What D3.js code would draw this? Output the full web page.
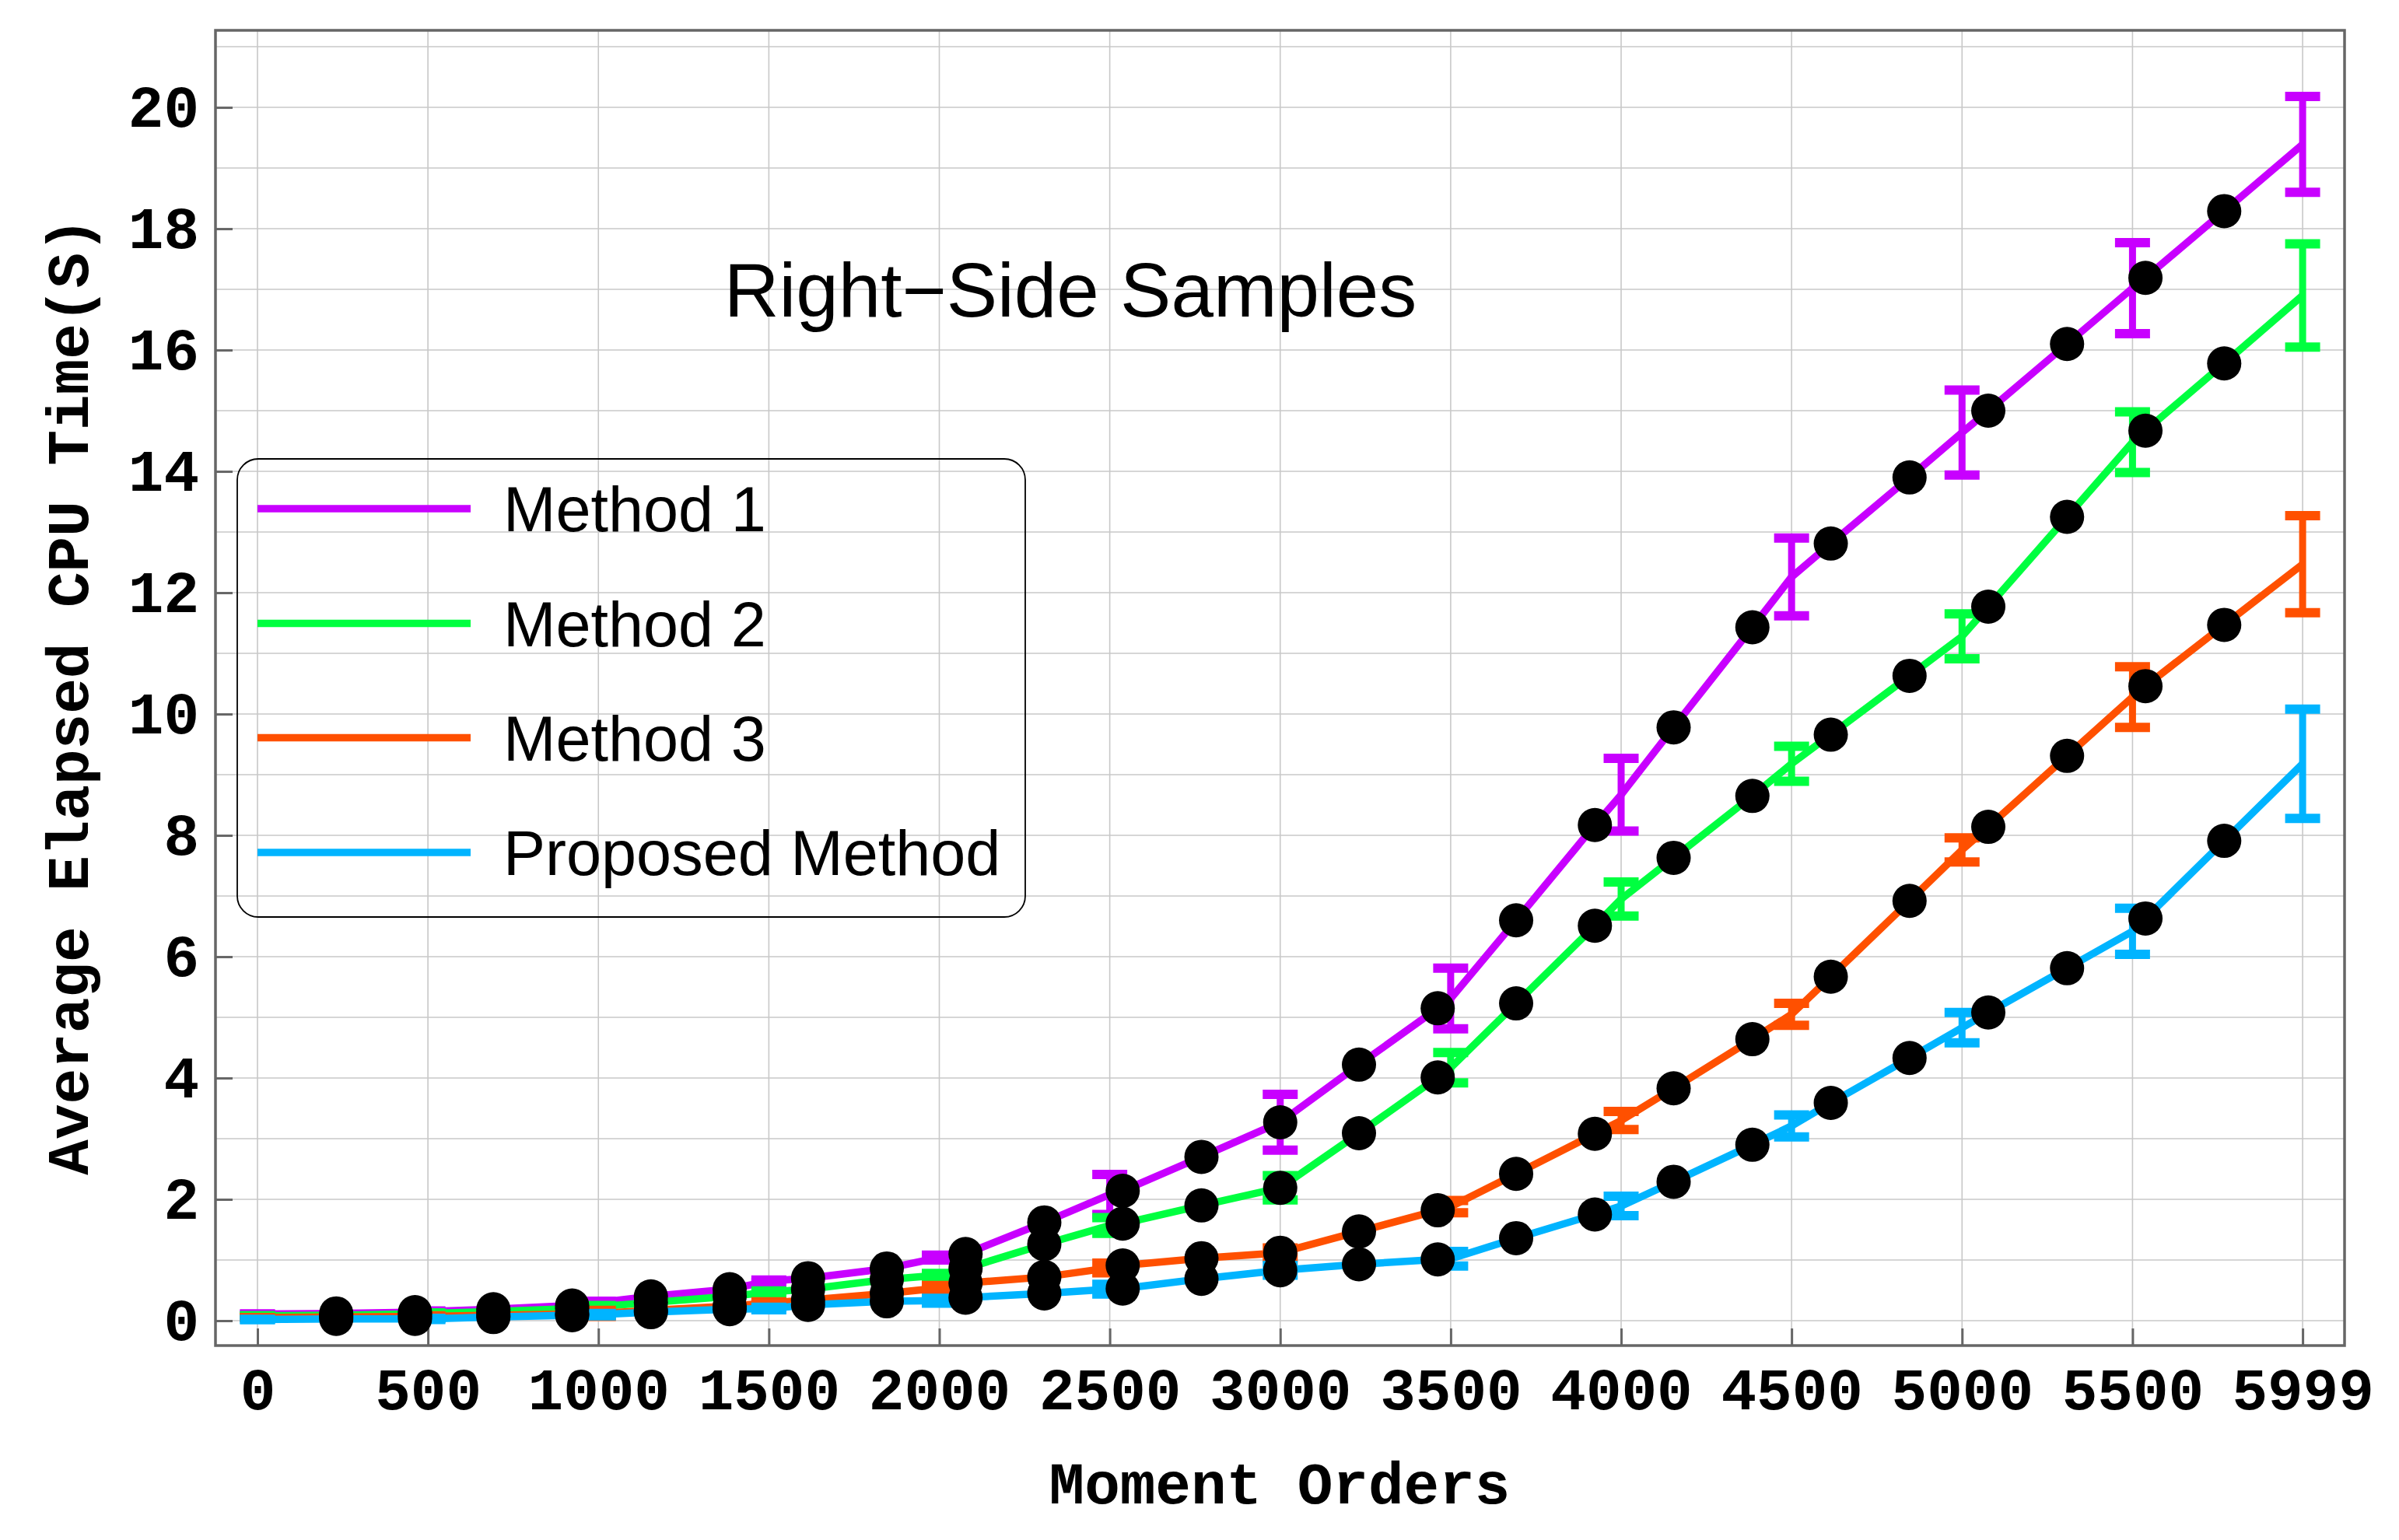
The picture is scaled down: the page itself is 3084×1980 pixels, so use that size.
<!DOCTYPE html>
<html>
<head>
<meta charset="utf-8">
<script src="https://cdn.jsdelivr.net/npm/d3@7"></script>
<style>
  html, body { margin: 0; padding: 0; background: #ffffff; }
  svg { display: block; }
</style>
</head>
<body>
<svg id="chart" width="3084" height="1980"></svg>
<script>
// ---------------- DATA ----------------
const orders = [0, 231, 462, 500, 692, 923, 1000, 1154, 1385, 1500, 1615, 1846, 2000, 2077, 2308, 2500, 2538, 2769, 3000,
  3231, 3462, 3500, 3692, 3923, 4000, 4154, 4385, 4500, 4615, 4846, 5000, 5077, 5308, 5500, 5538, 5769, 5999];

const markerOrders = [231, 462, 692, 923, 1154, 1385, 1615, 1846, 2077, 2308, 2538, 2769, 3000,
  3231, 3462, 3692, 3923, 4154, 4385, 4615, 4846, 5077, 5308, 5538, 5769];

const errorOrders = [0, 500, 1000, 1500, 2000, 2500, 3000, 3500, 4000, 4500, 5000, 5500, 5999];

const seriesNames = ["Method 1", "Method 2", "Method 3", "Proposed Method"];
const seriesColors = ["#c800ff", "#00ff40", "#ff5000", "#00b4ff"];

const method1 = [0.11, 0.12, 0.14, 0.15, 0.19, 0.25, 0.30, 0.40, 0.52, 0.65, 0.70, 0.86, 1.04, 1.10, 1.62, 2.08, 2.14, 2.70, 3.27,
  4.22, 5.15, 5.31, 6.60, 8.17, 8.67, 9.78, 11.43, 12.26, 12.81, 13.90, 14.64, 15.00, 16.10, 17.02, 17.19, 18.29, 19.39];
const method2 = [0.08, 0.09, 0.11, 0.12, 0.15, 0.20, 0.23, 0.30, 0.40, 0.47, 0.52, 0.68, 0.75, 0.86, 1.26, 1.57, 1.60, 1.90, 2.19,
  3.09, 4.01, 4.17, 5.23, 6.51, 6.95, 7.63, 8.65, 9.18, 9.66, 10.63, 11.28, 11.77, 13.25, 14.48, 14.67, 15.78, 16.90];
const method3 = [0.05, 0.06, 0.07, 0.07, 0.09, 0.11, 0.12, 0.17, 0.24, 0.29, 0.34, 0.45, 0.54, 0.62, 0.72, 0.87, 0.91, 1.03, 1.12,
  1.47, 1.82, 1.88, 2.42, 3.08, 3.30, 3.83, 4.64, 5.05, 5.67, 6.92, 7.76, 8.14, 9.31, 10.28, 10.46, 11.47, 12.47];
const proposed = [0.02, 0.03, 0.03, 0.03, 0.06, 0.09, 0.10, 0.14, 0.19, 0.20, 0.26, 0.32, 0.33, 0.38, 0.45, 0.52, 0.53, 0.69, 0.83,
  0.93, 1.01, 1.02, 1.36, 1.75, 1.89, 2.29, 2.90, 3.21, 3.59, 4.33, 4.83, 5.08, 5.81, 6.42, 6.63, 7.91, 9.18];

const err1 = [0, 0.01, 0.02, 0.02, 0.04, 0.33, 0.46, 0.50, 0.60, 0.64, 0.70, 0.75, 0.79];
const err2 = [0, 0.01, 0.02, 0.02, 0.03, 0.13, 0.20, 0.25, 0.28, 0.29, 0.37, 0.50, 0.85];
const err3 = [0, 0.01, 0.05, 0.02, 0.04, 0.08, 0.08, 0.10, 0.15, 0.18, 0.20, 0.50, 0.80];
const err4 = [0, 0.01, 0.02, 0.02, 0.04, 0.08, 0.08, 0.12, 0.16, 0.18, 0.25, 0.38, 0.90];

const xTicks = [0, 500, 1000, 1500, 2000, 2500, 3000, 3500, 4000, 4500, 5000, 5500, 5999];
const xTickLabels = ["0", "500", "1000", "1500", "2000", "2500", "3000", "3500", "4000", "4500", "5000", "5500", "5999"];
const yTicks = [0, 2, 4, 6, 8, 10, 12, 14, 16, 18, 20];
const yTickLabels = ["0", "2", "4", "6", "8", "10", "12", "14", "16", "18", "20"];
const yGrid = [0, 1, 2, 3, 4, 5, 6, 7, 8, 9, 10, 11, 12, 13, 14, 15, 16, 17, 18, 19, 20, 21];

const titleText = "Right\u2212Side Samples";
const xTitle = "Moment Orders";
const yTitle = "Average Elapsed CPU Time(S)";

// ---------------- LAYOUT ----------------
const plot = { left: 277, right: 3014, top: 39, bottom: 1730 };
const x = d3.scaleLinear().domain([-123.2, 6122]).range([plot.left, plot.right]);
const y = d3.scaleLinear().domain([-0.41, 21.27]).range([plot.bottom, plot.top]);

const svg = d3.select("#chart");
svg.append("rect").attr("width", 3084).attr("height", 1980).attr("fill", "#ffffff");

const monoFont = "'Liberation Mono', 'Courier New', monospace";
const sansFont = "'Liberation Sans', Arial, sans-serif";

// grid
const grid = svg.append("g");
grid.selectAll("line.v").data(xTicks).enter().append("line")
  .attr("x1", d => x(d)).attr("x2", d => x(d))
  .attr("y1", plot.top).attr("y2", plot.bottom)
  .attr("stroke", "#c8c8c8").attr("stroke-width", 1.6);
grid.selectAll("line.h").data(yGrid).enter().append("line")
  .attr("x1", plot.left).attr("x2", plot.right)
  .attr("y1", d => y(d)).attr("y2", d => y(d))
  .attr("stroke", "#c8c8c8").attr("stroke-width", 1.6);

// axes with d3 axis generators (ticks inward)
const xAxis = d3.axisBottom(x).tickValues(xTicks).tickSizeInner(-22).tickSizeOuter(0)
  .tickFormat((d, i) => xTickLabels[i]).tickPadding(0);
const gx = svg.append("g").attr("transform", `translate(0,${plot.bottom})`).call(xAxis);
gx.select(".domain").remove();
gx.selectAll(".tick line").attr("stroke", "#666666").attr("stroke-width", 3);
gx.selectAll(".tick text").attr("font-family", monoFont).attr("font-weight", "bold")
  .attr("font-size", 76).attr("fill", "#000").attr("y", 82).attr("dy", 0);

const yAxis = d3.axisLeft(y).tickValues(yTicks).tickSizeInner(-22).tickSizeOuter(0)
  .tickFormat((d, i) => yTickLabels[i]).tickPadding(0);
const gy = svg.append("g").attr("transform", `translate(${plot.left},0)`).call(yAxis);
gy.select(".domain").remove();
gy.selectAll(".tick line").attr("stroke", "#666666").attr("stroke-width", 3);
gy.selectAll(".tick text").attr("font-family", monoFont).attr("font-weight", "bold")
  .attr("font-size", 76).attr("fill", "#000").attr("x", -21).attr("dy", 24);

// frame
svg.append("rect").attr("x", plot.left).attr("y", plot.top)
  .attr("width", plot.right - plot.left).attr("height", plot.bottom - plot.top)
  .attr("fill", "none").attr("stroke", "#666666").attr("stroke-width", 3.5);

// series
const allValues = [method1, method2, method3, proposed];
const allErrors = [err1, err2, err3, err4];
const line = d3.line().x((d, i) => x(orders[i])).y(d => y(d));

const seriesLayer = svg.append("g");
allValues.forEach((vals, s) => {
  const g = seriesLayer.append("g");
  g.append("path").attr("d", line(vals)).attr("fill", "none")
    .attr("stroke", seriesColors[s]).attr("stroke-width", 9.5)
    .attr("stroke-linejoin", "round").attr("stroke-linecap", "butt");
  const eb = errorOrders.map((o, k) => ({ o: o, v: vals[orders.indexOf(o)], e: allErrors[s][k] }));
  g.selectAll("line.bar").data(eb).enter().append("line")
    .attr("x1", d => x(d.o)).attr("x2", d => x(d.o))
    .attr("y1", d => y(d.v - d.e)).attr("y2", d => y(d.v + d.e))
    .attr("stroke", seriesColors[s]).attr("stroke-width", 9);
  g.selectAll("line.capT").data(eb).enter().append("line")
    .attr("x1", d => x(d.o) - 22.5).attr("x2", d => x(d.o) + 22.5)
    .attr("y1", d => y(d.v + d.e)).attr("y2", d => y(d.v + d.e))
    .attr("stroke", seriesColors[s]).attr("stroke-width", 12);
  g.selectAll("line.capB").data(eb).enter().append("line")
    .attr("x1", d => x(d.o) - 22.5).attr("x2", d => x(d.o) + 22.5)
    .attr("y1", d => y(d.v - d.e)).attr("y2", d => y(d.v - d.e))
    .attr("stroke", seriesColors[s]).attr("stroke-width", 12);
});

// markers on top
const markerLayer = svg.append("g");
allValues.forEach((vals) => {
  const pts = markerOrders.map(o => ({ o: o, v: vals[orders.indexOf(o)] }));
  markerLayer.selectAll(null).data(pts).enter().append("circle")
    .attr("cx", d => x(d.o)).attr("cy", d => y(d.v)).attr("r", 22).attr("fill", "#000");
});

// title
svg.append("text").attr("x", 1376).attr("y", 407).attr("text-anchor", "middle")
  .attr("font-family", sansFont).attr("font-size", 98).attr("fill", "#000").text(titleText);

// axis titles
svg.append("text").attr("x", 1645).attr("y", 1933).attr("text-anchor", "middle")
  .attr("font-family", monoFont).attr("font-weight", "bold").attr("font-size", 76)
  .attr("fill", "#000").text(xTitle);
svg.append("text").attr("transform", "translate(113,895) rotate(-90)").attr("text-anchor", "middle")
  .attr("font-family", monoFont).attr("font-weight", "bold").attr("font-size", 76)
  .attr("fill", "#000").text(yTitle);

// legend
const legend = svg.append("g");
legend.append("rect").attr("x", 305).attr("y", 590).attr("width", 1013).attr("height", 589)
  .attr("rx", 27).attr("ry", 27).attr("fill", "none").attr("stroke", "#000").attr("stroke-width", 1.8);
const legendY = [654, 801.5, 948.5, 1096];
seriesNames.forEach((name, i) => {
  legend.append("line").attr("x1", 331).attr("x2", 605).attr("y1", legendY[i]).attr("y2", legendY[i])
    .attr("stroke", seriesColors[i]).attr("stroke-width", 9.5);
  legend.append("text").attr("x", 647).attr("y", legendY[i] + 29)
    .attr("font-family", sansFont).attr("font-size", 81).attr("fill", "#000").text(name);
});
</script>
</body>
</html>
